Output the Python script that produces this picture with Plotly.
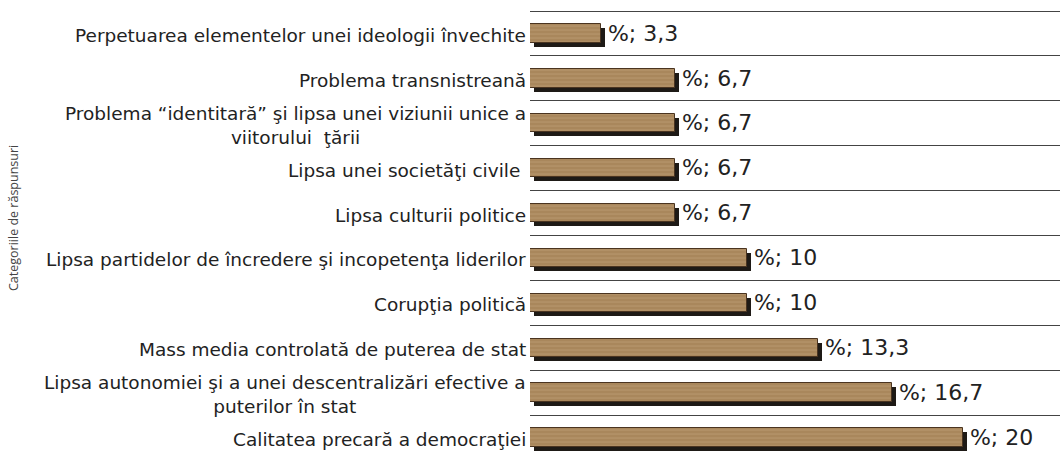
import plotly.graph_objects as go

categories = [
    "Perpetuarea elementelor unei ideologii învechite",
    "Problema transnistreană",
    "Problema “identitară” şi lipsa unei viziunii unice a<br>viitorului  ţării",
    "Lipsa unei societăţi civile ",
    "Lipsa culturii politice",
    "Lipsa partidelor de încredere şi incopetenţa liderilor",
    "Corupţia politică",
    "Mass media controlată de puterea de stat",
    "Lipsa autonomiei şi a unei descentralizări efective a<br>puterilor în stat",
    "Calitatea precară a democraţiei",
]
values = [3.3, 6.7, 6.7, 6.7, 6.7, 10, 10, 13.3, 16.7, 20]
value_labels = ["\u2009%; " + (f"{v:g}").replace(".", ",") for v in values]
axis_title = "Categoriile de răspunsuri"

W, H = 1060, 452
L, T = 530, 4
GRID_TOP = 11  # pixel of first category boundary
px_per_unit = 21.65
px_per_cat = 44.9
n = len(categories)
pos = list(range(n))

y_top = -0.5 - (GRID_TOP - T) / px_per_cat
y_bot = y_top + (H - T) / px_per_cat
x_max = (W - L) / px_per_unit

bw = 18.4 / px_per_cat
sh_dx = 4 / px_per_unit
sh_dy = 4 / px_per_cat

fig = go.Figure()
# shadow
fig.add_trace(go.Bar(
    y=pos, x=values, base=sh_dx, orientation="h",
    width=bw, offset=-bw / 2 + sh_dy,
    marker=dict(color="#1e1a16", line=dict(width=0)),
    hoverinfo="skip",
))
# wooden bar
fig.add_trace(go.Bar(
    y=pos, x=values, orientation="h",
    width=bw, offset=-bw / 2,
    marker=dict(
        color="#a9875c",
        line=dict(color="#4a3420", width=1),
        pattern=dict(shape="-", fgcolor="#c2a27a", size=4, solidity=0.3,
                     fillmode="overlay"),
    ),
    text=value_labels, textposition="outside", constraintext="none",
    textfont=dict(family="DejaVu Sans", size=22, color="#222222"),
    cliponaxis=False, hoverinfo="x+y",
))

for i, c in enumerate(categories):
    fig.add_annotation(
        x=0, xref="paper", xanchor="right", xshift=-2,
        y=i, yref="y", yanchor="middle", yshift=-2,
        text=c, showarrow=False, align="center",
        font=dict(family="DejaVu Sans", size=18.5, color="#222222"),
    )

fig.add_annotation(
    x=(13 - L) / (W - L), xref="paper", xanchor="center",
    y=(H - 218) / (H - T), yref="paper", yanchor="middle",
    text=axis_title, textangle=-90, showarrow=False,
    font=dict(family="Open Sans", size=12.5, color="#444444"),
)

fig.update_layout(
    width=W, height=H,
    margin=dict(l=L, r=0, t=T, b=0, pad=0, autoexpand=False),
    paper_bgcolor="white", plot_bgcolor="white",
    barmode="overlay", showlegend=False, bargap=0,
    xaxis=dict(range=[0, x_max], visible=False, fixedrange=True),
    yaxis=dict(
        range=[y_bot, y_top], tickvals=[i - 0.5 for i in range(n)],
        showticklabels=False, ticks="", showgrid=True, gridcolor="#444444",
        gridwidth=1, zeroline=False, showline=False, fixedrange=True,
    ),
)

fig.write_html(
    "out.html",
    config={"displayModeBar": False},
    post_script="document.body.style.margin='0';document.body.style.overflow='hidden';",
)
